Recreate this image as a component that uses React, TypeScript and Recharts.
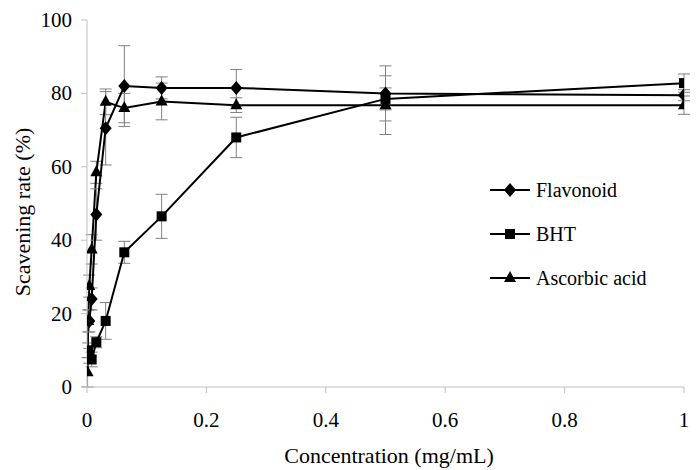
import React from 'react';
import { LineChart, Line, XAxis, YAxis, ErrorBar } from 'recharts';

// Concentrations (mg/mL) per series
const flavonoidConc = [0.003906, 0.0078125, 0.015625, 0.03125, 0.0625, 0.125, 0.25, 0.5, 1];
const flavonoidRate = [18, 24, 47, 70.5, 82, 81.5, 81.5, 80, 79.5];
const flavonoidErr = [3, 3, 7, 10, 11, 3, 5, 7.5, 1.5];

const bhtConc = [0.001953, 0.003906, 0.0078125, 0.015625, 0.03125, 0.0625, 0.125, 0.25, 0.5, 1];
const bhtRate = [10, 8.5, 7.5, 12.2, 18, 36.7, 46.5, 68, 78.5, 82.8];
const bhtErr = [2, 2, 2, 1.5, 5, 3, 6, 5.5, 3, 2.5];

const ascorbicConc = [0.000977, 0.001953, 0.003906, 0.0078125, 0.015625, 0.03125, 0.0625, 0.125, 0.25, 0.5, 1];
const ascorbicRate = [4, 18, 27.5, 37.5, 58.5, 77.7, 76, 77.8, 76.8, 76.8, 76.8];
const ascorbicErr = [4, 3, 3, 4, 3, 3.5, 4, 5, 2, 8, 2.5];

const xTicks = [0, 0.2, 0.4, 0.6, 0.8, 1];
const yTicks = [0, 20, 40, 60, 80, 100];

const seriesNames = ['Flavonoid', 'BHT', 'Ascorbic acid'];

const FONT = 'Liberation Serif, DejaVu Serif, serif';
const ERR_COLOR = '#808080';
const AXIS_COLOR = '#bfbfbf';

const toRows = (xs: number[], ys: number[], errs: number[]) =>
  xs.map((x, i) => ({ x, y: ys[i], err: errs[i] }));

const flavonoidData = toRows(flavonoidConc, flavonoidRate, flavonoidErr);
const bhtData = toRows(bhtConc, bhtRate, bhtErr);
const ascorbicData = toRows(ascorbicConc, ascorbicRate, ascorbicErr);

// marker shapes
const diamond = (cx: number, cy: number, key?: string | number) => (
  <polygon
    key={key}
    points={`${cx},${cy - 7} ${cx + 6},${cy} ${cx},${cy + 7} ${cx - 6},${cy}`}
    fill="#000"
  />
);
const square = (cx: number, cy: number, key?: string | number) => (
  <rect key={key} x={cx - 5} y={cy - 5} width={10} height={10} fill="#000" />
);
const triangle = (cx: number, cy: number, key?: string | number) => (
  <polygon
    key={key}
    points={`${cx},${cy - 7} ${cx + 6},${cy + 4} ${cx - 6},${cy + 4}`}
    fill="#000"
  />
);

const markers = [diamond, square, triangle];

const makeDot = (shape: typeof diamond) => (props: any) => {
  const { cx, cy, index } = props;
  if (cx == null || cy == null) return <g key={`d-${index}`} />;
  return shape(cx, cy, `d-${index}`);
};

const textStyle = { fontFamily: FONT };

const XTick = (props: any) => {
  const { x, y, payload } = props;
  return (
    <text x={x} y={y} dy={15} textAnchor="middle" fontSize={21} fill="#000" style={textStyle}>
      {String(payload.value)}
    </text>
  );
};

const YTick = (props: any) => {
  const { x, y, payload } = props;
  return (
    <text x={x} y={y} dy={7} textAnchor="end" fontSize={21} fill="#000" style={textStyle}>
      {String(payload.value)}
    </text>
  );
};

const ChartLegend = () => (
  <div
    style={{
      position: 'absolute',
      left: 488,
      top: 168,
      fontFamily: FONT,
      fontSize: 20,
      color: '#000'
    }}
  >
    {seriesNames.map((name, i) => (
      <div key={name} style={{ display: 'flex', alignItems: 'center', height: 44 }}>
        <svg width={46} height={20} style={{ marginRight: 2 }}>
          <line x1={2} y1={10} x2={42} y2={10} stroke="#000" strokeWidth={2} />
          {markers[i](22, 10)}
        </svg>
        <span>{name}</span>
      </div>
    ))}
  </div>
);

export default function App() {
  return (
    <div style={{ position: 'absolute', left: 0, top: 0, width: 700, height: 470, background: '#fff', fontFamily: FONT }}>
      <LineChart width={700} height={470} margin={{ top: 20, right: 16, bottom: 0, left: 0 }}>
        <XAxis
          type="number"
          dataKey="x"
          domain={[0, 1]}
          ticks={xTicks}
          height={83}
          stroke={AXIS_COLOR}
          tickSize={6}
          tickMargin={19}
          tick={<XTick />}
          allowDataOverflow
          label={{
            content: () => (
              <text x={389} y={463} textAnchor="middle" fontSize={22} fill="#000" style={textStyle}>
                Concentration (mg/mL)
              </text>
            )
          }}
        />
        <YAxis
          type="number"
          domain={[0, 100]}
          ticks={yTicks}
          width={87}
          stroke={AXIS_COLOR}
          tickSize={6}
          tickMargin={9}
          tick={<YTick />}
          allowDataOverflow
          label={{
            content: () => (
              <text
                x={22}
                y={212}
                transform="rotate(-90 22 212)"
                textAnchor="middle"
                dominantBaseline="central"
                fontSize={22}
                fill="#000"
                style={textStyle}
              >
                Scavening rate (%)
              </text>
            )
          }}
        />
        <Line
          data={bhtData}
          dataKey="y"
          name="BHT"
          stroke="#000"
          strokeWidth={2}
          dot={makeDot(square)}
          activeDot={false}
          isAnimationActive={false}
        >
          <ErrorBar dataKey="err" direction="y" width={6} stroke={ERR_COLOR} strokeWidth={1} />
        </Line>
        <Line
          data={ascorbicData}
          dataKey="y"
          name="Ascorbic acid"
          stroke="#000"
          strokeWidth={2}
          dot={makeDot(triangle)}
          activeDot={false}
          isAnimationActive={false}
        >
          <ErrorBar dataKey="err" direction="y" width={6} stroke={ERR_COLOR} strokeWidth={1} />
        </Line>
        <Line
          data={flavonoidData}
          dataKey="y"
          name="Flavonoid"
          stroke="#000"
          strokeWidth={2}
          dot={makeDot(diamond)}
          activeDot={false}
          isAnimationActive={false}
        >
          <ErrorBar dataKey="err" direction="y" width={6} stroke={ERR_COLOR} strokeWidth={1} />
        </Line>
      </LineChart>
      <ChartLegend />
    </div>
  );
}
